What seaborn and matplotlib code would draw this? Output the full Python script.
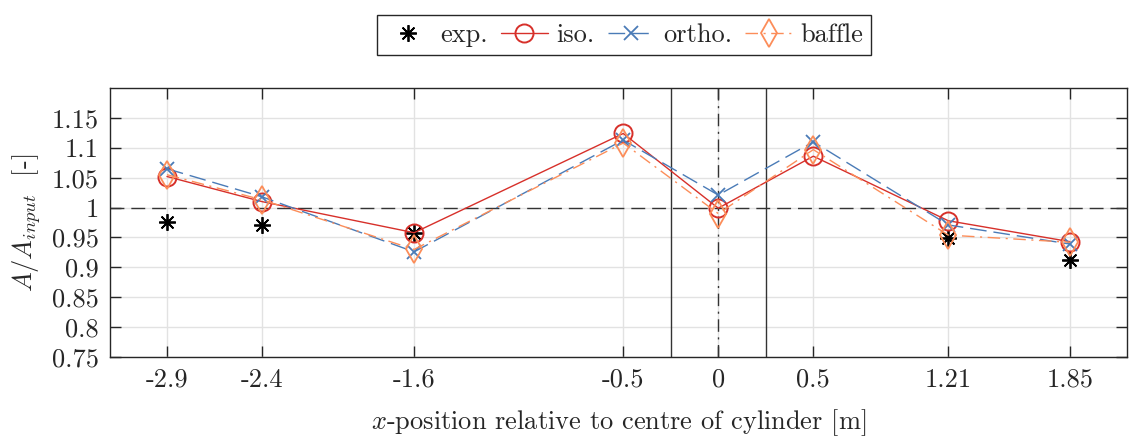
import numpy as np
import matplotlib
matplotlib.use("Agg")
import matplotlib.pyplot as plt
import seaborn as sns

# probe positions [m] and measured / simulated amplitude ratios
x_pos = [-2.9, -2.4, -1.6, -0.5, 0.0, 0.5, 1.21, 1.85]
x_labels = ['-2.9', '-2.4', '-1.6', '-0.5', '0', '0.5', '1.21', '1.85']
exp = [0.976, 0.971, 0.958, np.nan, np.nan, np.nan, 0.949, 0.912]
iso = [1.052, 1.010, 0.958, 1.124, 0.999, 1.086, 0.978, 0.943]
ortho = [1.065, 1.018, 0.926, 1.113, 1.021, 1.110, 0.971, 0.939]
baffle = [1.055, 1.013, 0.930, 1.108, 0.990, 1.097, 0.954, 0.942]
y_ticks = [0.75, 0.8, 0.85, 0.9, 0.95, 1.0, 1.05, 1.1, 1.15]
y_labels = ['0.75', '0.8', '0.85', '0.9', '0.95', '1', '1.05', '1.1', '1.15']
cyl_edges = [-0.25, 0.25]

sns.set_style('ticks')
plt.rcParams['font.family'] = ['cmr10', 'DejaVu Serif']
plt.rcParams['mathtext.fontset'] = 'cm'
plt.rcParams['axes.unicode_minus'] = False

red = '#d7302a'
blue = '#4a7bb7'
orange = '#fc8d59'
fs = 19

fig = plt.figure(figsize=(11.29, 4.37), dpi=100)
ax = fig.add_axes([0.0974, 0.183, 0.9008, 0.6155])

ax.grid(True, color='#e2e2e2', lw=1)
ax.set_axisbelow(True)

ax.axhline(1.0, color='#333333', lw=1, ls=(0, (10, 5)), zorder=1)
for xe in cyl_edges:
    ax.axvline(xe, color='#333333', lw=1, zorder=1)
ax.axvline(0.0, color='#333333', lw=1, ls=(0, (9, 4, 1.5, 4)), zorder=1)

sns.lineplot(x=x_pos, y=exp, ax=ax, color='k', linestyle='', marker=(8, 2, 0),
             ms=12, mec='k', mew=1.3, label='exp.', zorder=3)
sns.lineplot(x=x_pos, y=iso, ax=ax, color=red, lw=1.0, marker='o', ms=13,
             mfc='none', mec=red, mew=1.4, label='iso.', zorder=4)
sns.lineplot(x=x_pos, y=ortho, ax=ax, color=blue, lw=1.0, linestyle=(0, (12, 5)),
             marker='x', ms=10, mec=blue, mew=1.3, label='ortho.', zorder=5)
sns.lineplot(x=x_pos, y=baffle, ax=ax, color=orange, lw=1.0,
             linestyle=(0, (9, 4, 1.5, 4)), marker='d', ms=14, mfc='none',
             mec=orange, mew=1.3, label='baffle', zorder=6)

handles, labels = ax.get_legend_handles_labels()
if ax.get_legend() is not None:
    ax.get_legend().remove()

ax.set_xlim(-3.2, 2.15)
ax.set_ylim(0.75, 1.2)
ax.set_xticks(x_pos)
ax.set_xticklabels(x_labels)
ax.set_yticks(y_ticks)
ax.set_yticklabels(y_labels)
ax.tick_params(direction='in', length=8, width=1, top=True, right=True,
               labelsize=fs, pad=8, color='#262626')
for sp in ax.spines.values():
    sp.set_visible(True)
    sp.set_color('#262626')
    sp.set_linewidth(1)

ax.set_xlabel('$x$-position relative to centre of cylinder [m]', fontsize=fs,
              labelpad=11)
ax.set_ylabel('$A/A_{input}$  [-]', fontsize=fs, labelpad=6)

leg = fig.legend(handles, labels, ncol=4, loc='center',
                 bbox_to_anchor=(0.5527, 0.92), fontsize=fs, frameon=True,
                 fancybox=False, edgecolor='#262626', framealpha=1,
                 handlelength=1.8, columnspacing=0.5, handletextpad=0.3,
                 borderpad=0.3)
leg.get_frame().set_linewidth(1)

fig.savefig('out.png', dpi=100)
